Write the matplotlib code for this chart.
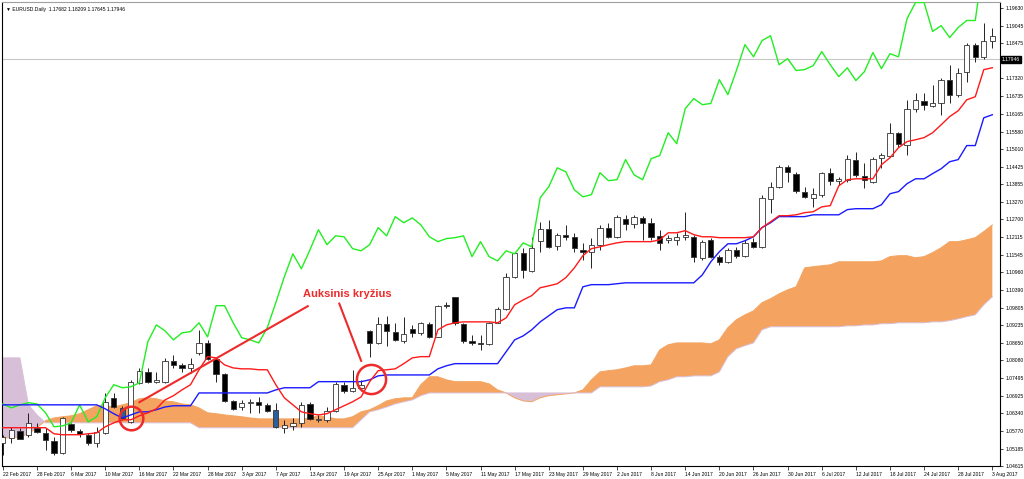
import numpy as np
import matplotlib
matplotlib.use('Agg')
import matplotlib.pyplot as plt
import matplotlib.transforms as mtransforms

plt.rcParams['font.family'] = ['Liberation Sans', 'DejaVu Sans']

# Дані свічок EURUSD, денний графік (22 лют - 3 серп 2017)
opens = [1.0537, 1.0554, 1.0577, 1.0564, 1.0587, 1.0570, 1.0544, 1.0505, 1.0600, 1.0577,
         1.0564, 1.0537, 1.0570, 1.0685, 1.0652, 1.0606, 1.0734, 1.0770, 1.0738, 1.0738,
         1.0806, 1.0793, 1.0783, 1.0833, 1.0865, 1.0813, 1.0764, 1.0675, 1.0655, 1.0669,
         1.0672, 1.0662, 1.0646, 1.0587, 1.0593, 1.0603, 1.0665, 1.0613, 1.0613, 1.0642,
         1.0728, 1.0708, 1.0718, 1.0905, 1.0865, 1.0928, 1.0902, 1.0872, 1.0911, 1.0898,
         1.0928, 1.0885, 1.0990, 1.1016, 1.0928, 1.0872, 1.0865, 1.0862, 1.0931, 1.0977,
         1.1082, 1.1161, 1.1102, 1.1200, 1.1239, 1.1184, 1.1220, 1.1213, 1.1170, 1.1164,
         1.1187, 1.1243, 1.1213, 1.1272, 1.1256, 1.1275, 1.1259, 1.1216, 1.1203, 1.1203,
         1.1213, 1.1213, 1.1144, 1.1203, 1.1148, 1.1131, 1.1170, 1.1151, 1.1197, 1.1180,
         1.1338, 1.1377, 1.1443, 1.1420, 1.1361, 1.1341, 1.1351, 1.1423, 1.1397, 1.1400,
         1.1466, 1.1413, 1.1394, 1.1472, 1.1479, 1.1554, 1.1515, 1.1633, 1.1659, 1.1643,
         1.1650, 1.1728, 1.1679, 1.1754, 1.1843, 1.1803, 1.1856]
highs = [1.0564, 1.0590, 1.0587, 1.0636, 1.0603, 1.0587, 1.0557, 1.0623, 1.0603, 1.0583,
         1.0570, 1.0590, 1.0701, 1.0701, 1.0659, 1.0744, 1.0783, 1.0783, 1.0770, 1.0816,
         1.0826, 1.0800, 1.0816, 1.0908, 1.0875, 1.0816, 1.0767, 1.0679, 1.0679, 1.0682,
         1.0688, 1.0669, 1.0669, 1.0613, 1.0619, 1.0672, 1.0672, 1.0629, 1.0655, 1.0738,
         1.0738, 1.0777, 1.0744, 1.0908, 1.0951, 1.0954, 1.0931, 1.0951, 1.0925, 1.0934,
         1.0934, 1.0990, 1.1000, 1.1017, 1.0931, 1.0892, 1.0892, 1.0934, 1.0984, 1.1095,
         1.1164, 1.1177, 1.1213, 1.1262, 1.1269, 1.1226, 1.1252, 1.1226, 1.1193, 1.1210,
         1.1252, 1.1259, 1.1285, 1.1285, 1.1285, 1.1282, 1.1275, 1.1236, 1.1220, 1.1226,
         1.1295, 1.1220, 1.1203, 1.1210, 1.1154, 1.1177, 1.1180, 1.1203, 1.1210, 1.1351,
         1.1394, 1.1449, 1.1449, 1.1426, 1.1377, 1.1374, 1.1426, 1.1439, 1.1410, 1.1482,
         1.1492, 1.1456, 1.1476, 1.1489, 1.1587, 1.1558, 1.1662, 1.1685, 1.1685, 1.1712,
         1.1735, 1.1777, 1.1767, 1.1849, 1.1849, 1.1915, 1.1899]
lows = [1.0498, 1.0537, 1.0550, 1.0557, 1.0570, 1.0514, 1.0498, 1.0501, 1.0573, 1.0557,
        1.0531, 1.0524, 1.0567, 1.0652, 1.0613, 1.0603, 1.0731, 1.0734, 1.0734, 1.0734,
        1.0783, 1.0770, 1.0767, 1.0826, 1.0810, 1.0738, 1.0672, 1.0646, 1.0646, 1.0636,
        1.0636, 1.0639, 1.0587, 1.0570, 1.0580, 1.0590, 1.0613, 1.0606, 1.0606, 1.0639,
        1.0701, 1.0705, 1.0711, 1.0820, 1.0862, 1.0856, 1.0872, 1.0865, 1.0885, 1.0892,
        1.0882, 1.0884, 1.0980, 1.0925, 1.0865, 1.0859, 1.0842, 1.0859, 1.0930, 1.0974,
        1.1079, 1.1079, 1.1098, 1.1164, 1.1177, 1.1170, 1.1203, 1.1164, 1.1138, 1.1111,
        1.1170, 1.1210, 1.1210, 1.1236, 1.1243, 1.1203, 1.1203, 1.1170, 1.1193, 1.1187,
        1.1203, 1.1131, 1.1138, 1.1144, 1.1121, 1.1128, 1.1144, 1.1148, 1.1177, 1.1177,
        1.1292, 1.1374, 1.1394, 1.1357, 1.1341, 1.1312, 1.1344, 1.1384, 1.1384, 1.1394,
        1.1410, 1.1374, 1.1390, 1.1439, 1.1476, 1.1508, 1.1482, 1.1623, 1.1630, 1.1640,
        1.1613, 1.1653, 1.1672, 1.1721, 1.1787, 1.1797, 1.1833]
closes = [1.0557, 1.0580, 1.0551, 1.0603, 1.0573, 1.0547, 1.0505, 1.0619, 1.0580, 1.0567,
          1.0537, 1.0573, 1.0672, 1.0655, 1.0619, 1.0738, 1.0774, 1.0738, 1.0744, 1.0806,
          1.0793, 1.0783, 1.0797, 1.0865, 1.0813, 1.0764, 1.0675, 1.0649, 1.0669, 1.0672,
          1.0662, 1.0642, 1.0590, 1.0596, 1.0603, 1.0662, 1.0616, 1.0616, 1.0642, 1.0731,
          1.0708, 1.0718, 1.0728, 1.0865, 1.0928, 1.0905, 1.0875, 1.0895, 1.0898, 1.0931,
          1.0885, 1.0987, 1.0986, 1.0931, 1.0872, 1.0865, 1.0862, 1.0931, 1.0977, 1.1082,
          1.1161, 1.1105, 1.1177, 1.1239, 1.1180, 1.1220, 1.1213, 1.1177, 1.1164, 1.1187,
          1.1243, 1.1213, 1.1279, 1.1256, 1.1279, 1.1259, 1.1213, 1.1193, 1.1210, 1.1213,
          1.1220, 1.1148, 1.1197, 1.1148, 1.1131, 1.1170, 1.1151, 1.1193, 1.1180, 1.1341,
          1.1377, 1.1443, 1.1426, 1.1364, 1.1344, 1.1354, 1.1423, 1.1397, 1.1403, 1.1469,
          1.1416, 1.1400, 1.1469, 1.1482, 1.1554, 1.1518, 1.1633, 1.1662, 1.1646, 1.1650,
          1.1728, 1.1679, 1.1751, 1.1843, 1.1803, 1.1856, 1.1872]
blue_candles = [14, 32]

# Лінії Ішимоку
tenkan = [1.0587, 1.0587, 1.0587, 1.0587, 1.0587, 1.0587, 1.0567, 1.0564, 1.0564, 1.0564,
          1.0567, 1.0570, 1.0590, 1.0603, 1.0613, 1.0613, 1.0626, 1.0636, 1.0649, 1.0678,
          1.0692, 1.0711, 1.0728, 1.0777, 1.0820, 1.0816, 1.0793, 1.0783, 1.0780, 1.0780,
          1.0777, 1.0777, 1.0728, 1.0685, 1.0662, 1.0639, 1.0633, 1.0629, 1.0633, 1.0646,
          1.0659, 1.0672, 1.0688, 1.0738, 1.0774, 1.0777, 1.0780, 1.0797, 1.0816, 1.0820,
          1.0820, 1.0908, 1.0924, 1.0931, 1.0934, 1.0934, 1.0934, 1.0934, 1.0931, 1.0947,
          1.0990, 1.1006, 1.1020, 1.1046, 1.1052, 1.1059, 1.1079, 1.1111, 1.1151, 1.1174,
          1.1180, 1.1187, 1.1193, 1.1197, 1.1197, 1.1197, 1.1197, 1.1203, 1.1226, 1.1226,
          1.1233, 1.1220, 1.1213, 1.1213, 1.1210, 1.1210, 1.1210, 1.1210, 1.1213, 1.1243,
          1.1262, 1.1282, 1.1282, 1.1285, 1.1292, 1.1295, 1.1311, 1.1315, 1.1380, 1.1400,
          1.1403, 1.1403, 1.1403, 1.1449, 1.1472, 1.1505, 1.1525, 1.1531, 1.1538, 1.1554,
          1.1580, 1.1607, 1.1626, 1.1662, 1.1672, 1.1761, 1.1767]
kijun = [1.0662, 1.0662, 1.0662, 1.0662, 1.0662, 1.0662, 1.0662, 1.0662, 1.0662, 1.0662,
         1.0662, 1.0662, 1.0649, 1.0633, 1.0619, 1.0629, 1.0639, 1.0639, 1.0646, 1.0655,
         1.0659, 1.0659, 1.0659, 1.0701, 1.0701, 1.0701, 1.0701, 1.0701, 1.0701, 1.0701,
         1.0701, 1.0701, 1.0711, 1.0718, 1.0718, 1.0718, 1.0718, 1.0738, 1.0738, 1.0738,
         1.0738, 1.0738, 1.0738, 1.0744, 1.0757, 1.0760, 1.0760, 1.0760, 1.0760, 1.0760,
         1.0760, 1.0780, 1.0790, 1.0797, 1.0797, 1.0797, 1.0797, 1.0797, 1.0797, 1.0836,
         1.0875, 1.0888, 1.0908, 1.0934, 1.0954, 1.0974, 1.0980, 1.0980, 1.1049, 1.1056,
         1.1056, 1.1056, 1.1059, 1.1062, 1.1062, 1.1062, 1.1062, 1.1062, 1.1062, 1.1062,
         1.1062, 1.1062, 1.1088, 1.1131, 1.1164, 1.1190, 1.1190, 1.1200, 1.1213, 1.1243,
         1.1259, 1.1279, 1.1279, 1.1279, 1.1279, 1.1285, 1.1285, 1.1285, 1.1285, 1.1302,
         1.1305, 1.1305, 1.1305, 1.1318, 1.1354, 1.1361, 1.1387, 1.1403, 1.1403, 1.1420,
         1.1436, 1.1459, 1.1466, 1.1512, 1.1512, 1.1603, 1.1613]
chikou = [1.0665, 1.0652, 1.0662, 1.0669, 1.0665, 1.0636, 1.0590, 1.0593, 1.0603, 1.0662,
          1.0606, 1.0623, 1.0685, 1.0728, 1.0718, 1.0721, 1.0734, 1.0869, 1.0924, 1.0905,
          1.0875, 1.0898, 1.0902, 1.0931, 1.0885, 1.0987, 1.0987, 1.0931, 1.0882, 1.0875,
          1.0865, 1.0915, 1.0997, 1.1082, 1.1157, 1.1108, 1.1170, 1.1236, 1.1187, 1.1216,
          1.1213, 1.1174, 1.1167, 1.1187, 1.1243, 1.1216, 1.1279, 1.1259, 1.1275, 1.1252,
          1.1213, 1.1197, 1.1207, 1.1210, 1.1216, 1.1148, 1.1197, 1.1148, 1.1134, 1.1167,
          1.1157, 1.1193, 1.1180, 1.1341, 1.1377, 1.1439, 1.1426, 1.1367, 1.1344, 1.1351,
          1.1423, 1.1397, 1.1400, 1.1466, 1.1416, 1.1400, 1.1469, 1.1479, 1.1554, 1.1518,
          1.1633, 1.1666, 1.1646, 1.1650, 1.1728, 1.1679, 1.1758, 1.1843, 1.1803, 1.1856,
          1.1872, 1.1777, 1.1797, 1.1758, 1.1761, 1.1774, 1.1820, 1.1777, 1.1738, 1.1767,
          1.1725, 1.1754, 1.1817, 1.1764, 1.1813, 1.1803, 1.1928, 1.1981, 1.1981, 1.1886,
          1.1905, 1.1866, 1.1899, 1.1922, 1.1922, 1.2122, 1.2138]
span_a = [1.0554, 1.0554, 1.0557, 1.0567, 1.0587, 1.0610, 1.0619, 1.0623, 1.0626, 1.0633,
          1.0646, 1.0659, 1.0659, 1.0655, 1.0662, 1.0669, 1.0682, 1.0685, 1.0682, 1.0675,
          1.0672, 1.0665, 1.0662, 1.0652, 1.0636, 1.0633, 1.0629, 1.0626, 1.0623, 1.0619,
          1.0616, 1.0616, 1.0616, 1.0616, 1.0616, 1.0616, 1.0619, 1.0626, 1.0623, 1.0616,
          1.0616, 1.0623, 1.0639, 1.0646, 1.0659, 1.0675, 1.0682, 1.0685, 1.0685, 1.0728,
          1.0754, 1.0754, 1.0744, 1.0738, 1.0738, 1.0738, 1.0738, 1.0731, 1.0711, 1.0701,
          1.0685, 1.0675, 1.0672, 1.0685, 1.0692, 1.0695, 1.0698, 1.0701, 1.0711, 1.0744,
          1.0770, 1.0774, 1.0777, 1.0783, 1.0790, 1.0790, 1.0793, 1.0842, 1.0859, 1.0865,
          1.0865, 1.0865, 1.0865, 1.0862, 1.0875, 1.0915, 1.0941, 1.0957, 1.0970, 1.0997,
          1.1010, 1.1026, 1.1039, 1.1049, 1.1111, 1.1115, 1.1118, 1.1121, 1.1131, 1.1131,
          1.1131, 1.1131, 1.1131, 1.1134, 1.1148, 1.1151, 1.1151, 1.1144, 1.1148, 1.1161,
          1.1177, 1.1197, 1.1197, 1.1203, 1.1210, 1.1230, 1.1252]
span_b = [1.0816, 1.0816, 1.0816, 1.0662, 1.0629, 1.0603, 1.0603, 1.0603, 1.0603, 1.0603,
          1.0603, 1.0603, 1.0603, 1.0603, 1.0603, 1.0603, 1.0603, 1.0603, 1.0603, 1.0603,
          1.0603, 1.0603, 1.0603, 1.0587, 1.0587, 1.0587, 1.0587, 1.0587, 1.0587, 1.0587,
          1.0587, 1.0587, 1.0587, 1.0587, 1.0587, 1.0587, 1.0587, 1.0587, 1.0587, 1.0587,
          1.0587, 1.0587, 1.0613, 1.0639, 1.0646, 1.0655, 1.0665, 1.0672, 1.0678, 1.0692,
          1.0701, 1.0701, 1.0701, 1.0701, 1.0701, 1.0701, 1.0701, 1.0701, 1.0701, 1.0701,
          1.0701, 1.0701, 1.0701, 1.0701, 1.0701, 1.0701, 1.0701, 1.0701, 1.0701, 1.0701,
          1.0721, 1.0721, 1.0721, 1.0721, 1.0721, 1.0721, 1.0724, 1.0738, 1.0744, 1.0754,
          1.0754, 1.0757, 1.0757, 1.0757, 1.0770, 1.0820, 1.0846, 1.0856, 1.0865, 1.0908,
          1.0918, 1.0918, 1.0918, 1.0918, 1.0918, 1.0918, 1.0918, 1.0918, 1.0918, 1.0921,
          1.0921, 1.0924, 1.0924, 1.0928, 1.0928, 1.0931, 1.0931, 1.0931, 1.0931, 1.0934,
          1.0934, 1.0938, 1.0944, 1.0951, 1.0957, 1.0990, 1.1016]

# Підписи осей
date_labels = ['22 Feb 2017', '28 Feb 2017', '6 Mar 2017', '10 Mar 2017', '16 Mar 2017',
               '22 Mar 2017', '28 Mar 2017', '3 Apr 2017', '7 Apr 2017', '13 Apr 2017',
               '19 Apr 2017', '25 Apr 2017', '1 May 2017', '5 May 2017', '11 May 2017',
               '17 May 2017', '23 May 2017', '29 May 2017', '2 Jun 2017', '8 Jun 2017',
               '14 Jun 2017', '20 Jun 2017', '26 Jun 2017', '30 Jun 2017', '6 Jul 2017',
               '12 Jul 2017', '18 Jul 2017', '24 Jul 2017', '28 Jul 2017', '3 Aug 2017']
price_ticks = [1.04615, 1.05185, 1.05770, 1.06340, 1.06925, 1.07495, 1.08080, 1.08650,
               1.09235, 1.09805, 1.10390, 1.10960, 1.11545, 1.12115, 1.12700, 1.13270,
               1.13855, 1.14425, 1.15010, 1.15580, 1.16165, 1.16735, 1.17320, 1.18475,
               1.19045, 1.19630]
bid_price = 1.17946
header = '\u25bc EURUSD.Daily  1.17682 1.18209 1.17645 1.17946'

# Анотації: кола та лінії "Auksinis kryžius"
circle_pts = [(15.0, 1.0619, 17), (43.2, 1.0747, 21)]
arrow_lines = [((15.9, 35.85), (1.0669, 1.0987)), ((39.4, 42.05), (1.0997, 1.0803))]
label_pos = (40.4, 1.1026)

fig = plt.figure(figsize=(10.24, 4.79), dpi=100)
ax = fig.add_axes([2 / 1024, 13 / 479, 998 / 1024, 464 / 479])

x = np.arange(len(opens))
o = np.array(opens)
h = np.array(highs)
l = np.array(lows)
c = np.array(closes)

# Хмара Ішимоку
xa = np.arange(len(span_a))
a = np.array(span_a)
b = np.array(span_b)
ax.fill_between(xa, a, b, where=a >= b, interpolate=True, color='#f4a460', lw=0, zorder=1)
ax.fill_between(xa, a, b, where=a < b, interpolate=True, color='#d8bfd8', lw=0, zorder=1)
ax.plot(xa, a, color='#f4a460', lw=0.7, zorder=1.2)
ax.plot(xa, b, color='#d8bfd8', lw=0.7, zorder=1.2)

ax.axhline(bid_price, color='#c8c8c8', lw=0.8, zorder=0.5)

# Свічки
face = np.where(c >= o, 'white', 'black').astype(object)
for i in blue_candles:
    face[i] = '#2a5f9e'
ax.vlines(x, l, h, color='black', lw=0.6, zorder=2.5)
body_h = np.maximum(np.abs(c - o), 0.00004)
ax.bar(x, body_h, bottom=np.minimum(o, c), width=0.62, color=list(face),
       edgecolor='#333333', lw=0.6, zorder=3)

# Лінії
ax.plot(np.arange(len(chikou)), chikou, color='#22ee22', lw=1.0, zorder=4)
ax.plot(np.arange(len(kijun)), kijun, color='#1a1aff', lw=1.0, zorder=4)
ax.plot(np.arange(len(tenkan)), tenkan, color='#ff1a1a', lw=1.0, zorder=4.1)

# Анотації
red = '#ee2a2a'
for cx, cy, size in circle_pts:
    ax.plot([cx], [cy], marker='o', ms=size, mfc='none', mec=red, mew=1.8, zorder=6)
for xs, ys in arrow_lines:
    ax.plot(xs, ys, color=red, lw=1.5, zorder=6, solid_capstyle='butt')
ax.text(label_pos[0], label_pos[1], 'Auksinis kryžius', color=red, fontsize=8,
        fontweight='bold', ha='center', va='center', zorder=7)

# Осі
ax.set_xlim(-0.1, 116.9)
ax.set_ylim(1.04615, 1.19826)
ax.yaxis.tick_right()
ax.set_yticks(price_ticks)
ax.set_yticklabels(['%.5f' % p for p in price_ticks])
ax.set_xticks(x[::4])
ax.set_xticklabels(date_labels)
for lbl in ax.get_xticklabels():
    lbl.set_ha('left')
ax.tick_params(axis='y', labelsize=3.6, length=2.5, width=0.5, pad=1.2)
ax.tick_params(axis='x', labelsize=3.6, length=3, width=0.5, pad=1.2)
for side in ['left', 'bottom', 'right']:
    ax.spines[side].set_color('black')
    ax.spines[side].set_linewidth(0.8)
ax.spines['top'].set_color('#a0a0a0')
ax.spines['top'].set_linewidth(0.8)

ax.text(0.004, 0.99, header, transform=ax.transAxes, fontsize=3.6, va='top', ha='left')
trans = mtransforms.blended_transform_factory(ax.transAxes, ax.transData)
ax.text(1.002, bid_price, '%.5f' % bid_price, transform=trans, fontsize=3.6,
        color='white', va='center', ha='left',
        bbox=dict(boxstyle='square,pad=0.15', fc='black', ec='black'))

fig.savefig('out.png', dpi=100)
